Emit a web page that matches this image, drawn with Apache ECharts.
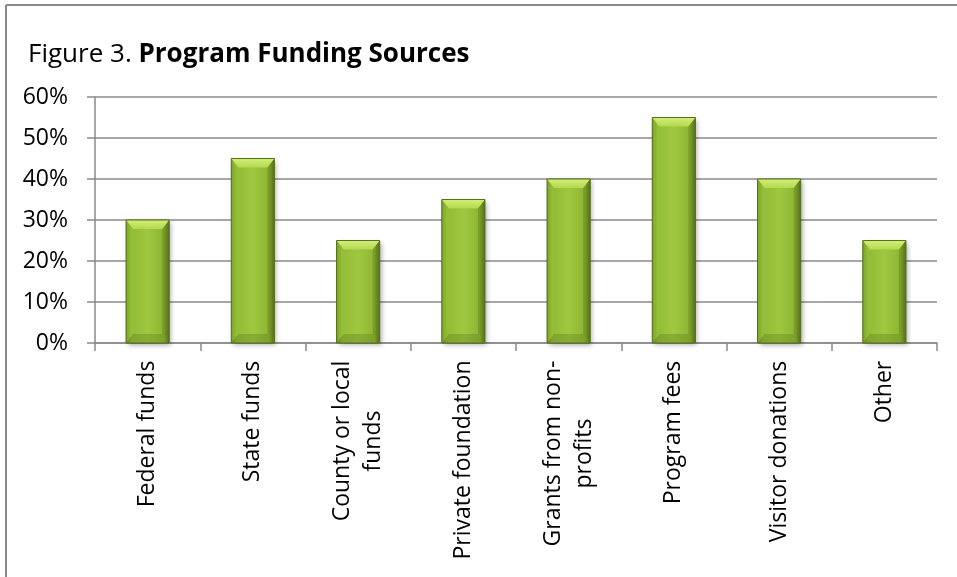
<!DOCTYPE html>
<html>
<head>
<meta charset="utf-8">
<script src="https://cdn.jsdelivr.net/npm/echarts@6/dist/echarts.min.js"></script>
<style>
  html, body { margin: 0; padding: 0; background: #fff; }
  #chart { width: 957px; height: 577px; }
</style>
</head>
<body>
<div id="chart"></div>
<script>
// Funding source categories and share of programs using each
const categories = [
  'Federal funds',
  'State funds',
  'County or local\nfunds',
  'Private foundation',
  'Grants from non-\nprofits',
  'Program fees',
  'Visitor donations',
  'Other'
];
const shares = [0.30, 0.45, 0.25, 0.35, 0.40, 0.55, 0.40, 0.25];
const yTicks = [0, 0.1, 0.2, 0.3, 0.4, 0.5, 0.6];

const FONT = '"Open Sans", "Noto Sans", sans-serif';
const LABEL_SIZE = 23;

// measure each label's longest line so multi-line labels center their lines
const measureCtx = document.createElement('canvas').getContext('2d');
measureCtx.font = LABEL_SIZE + 'px ' + FONT;
const labelRich = {};
categories.forEach((c, i) => {
  const w = Math.max(...c.split('\n').map(s => measureCtx.measureText(s).width));
  labelRich['c' + i] = {
    width: Math.ceil(w) + 1, align: 'center',
    fontSize: LABEL_SIZE, fontFamily: FONT, color: '#000', lineHeight: 31
  };
});

const chart = echarts.init(document.getElementById('chart'), null, { renderer: 'canvas' });

function renderBar(params, api) {
  const topPt = api.coord([api.value(0), api.value(1)]);
  const basePt = api.coord([api.value(0), 0]);
  const w = api.size([1, 0])[0] * 0.41;
  const x = topPt[0] - w / 2;
  const y = topPt[1];
  const h = basePt[1] - topPt[1];
  const b = Math.min(9, h / 2);
  const bx = 7;
  const bodyFill = new echarts.graphic.LinearGradient(0, 0, 1, 0, [
    { offset: 0, color: '#6f8f22' },
    { offset: 0.12, color: '#93bb36' },
    { offset: 0.5, color: '#9fc840' },
    { offset: 0.88, color: '#8eb533' },
    { offset: 1, color: '#5f7c1a' }
  ]);
  return {
    type: 'group',
    children: [
      {
        type: 'rect',
        shape: { x: x, y: y, width: w, height: h },
        style: {
          fill: bodyFill,
          shadowBlur: 5, shadowOffsetX: 2, shadowOffsetY: 2,
          shadowColor: 'rgba(0,0,0,0.35)'
        }
      },
      {
        type: 'polygon',
        shape: { points: [[x, y], [x + w, y], [x + w - bx, y + b], [x + bx, y + b]] },
        style: { fill: new echarts.graphic.LinearGradient(0, 0, 0, 1, [
          { offset: 0, color: '#d4ee7a' },
          { offset: 1, color: '#b2d94f' }
        ]) }
      },
      {
        type: 'polygon',
        shape: { points: [[x, y], [x + bx, y + b], [x + bx, y + h - b], [x, y + h]] },
        style: { fill: 'rgba(150,200,60,0.35)' }
      },
      {
        type: 'polygon',
        shape: { points: [[x + w, y], [x + w - bx, y + b], [x + w - bx, y + h - b], [x + w, y + h]] },
        style: { fill: 'rgba(60,80,10,0.25)' }
      },
      {
        type: 'polygon',
        shape: { points: [[x, y + h], [x + bx, y + h - b], [x + w - bx, y + h - b], [x + w, y + h]] },
        style: { fill: 'rgba(70,95,15,0.25)' }
      },
      {
        type: 'rect',
        shape: { x: x, y: y, width: w, height: h },
        style: { fill: 'none', stroke: '#55701a', lineWidth: 1 }
      }
    ]
  };
}

const option = {
  backgroundColor: '#fff',
  animation: false,
  textStyle: { fontFamily: FONT },
  title: {
    text: '{n|Figure 3. }{b|Program Funding Sources}',
    left: 23,
    top: 37,
    textStyle: {
      rich: {
        n: { fontSize: 26, fontFamily: FONT, color: '#000', fontWeight: 'normal' },
        b: { fontSize: 26, fontFamily: FONT, color: '#000', fontWeight: 'bold' }
      }
    }
  },
  graphic: [
    { type: 'line', shape: { x1: 6, y1: 5, x2: 957, y2: 5 }, style: { stroke: '#8a8a8a', lineWidth: 2 } },
    { type: 'line', shape: { x1: 6, y1: 5, x2: 6, y2: 577 }, style: { stroke: '#8a8a8a', lineWidth: 2 } }
  ],
  grid: { left: 95, right: 20, top: 97, bottom: 234, containLabel: false },
  xAxis: {
    type: 'category',
    data: categories,
    axisLine: { lineStyle: { color: '#8a8a8a', width: 1.5 } },
    axisTick: { show: true, length: 8, lineStyle: { color: '#8a8a8a', width: 1.5 } },
    axisLabel: {
      rotate: 90,
      margin: 17,
      interval: 0,
      formatter: (v, i) => v.split('\n').map(s => '{c' + i + '|' + s + '}').join('\n'),
      rich: labelRich
    }
  },
  yAxis: {
    type: 'value',
    min: yTicks[0],
    max: yTicks[yTicks.length - 1],
    interval: 0.1,
    axisLine: { show: true, lineStyle: { color: '#8a8a8a', width: 1.5 } },
    axisTick: { show: true, length: 8, lineStyle: { color: '#8a8a8a', width: 1.5 } },
    splitLine: { lineStyle: { color: '#8a8a8a', width: 1.5 } },
    axisLabel: {
      margin: 27,
      fontSize: LABEL_SIZE,
      fontFamily: FONT,
      color: '#000',
      formatter: v => Math.round(v * 100) + '%'
    }
  },
  series: [{
    type: 'custom',
    renderItem: renderBar,
    encode: { x: 0, y: 1 },
    data: shares.map((v, i) => [i, v])
  }]
};

chart.setOption(option);
</script>
</body>
</html>
